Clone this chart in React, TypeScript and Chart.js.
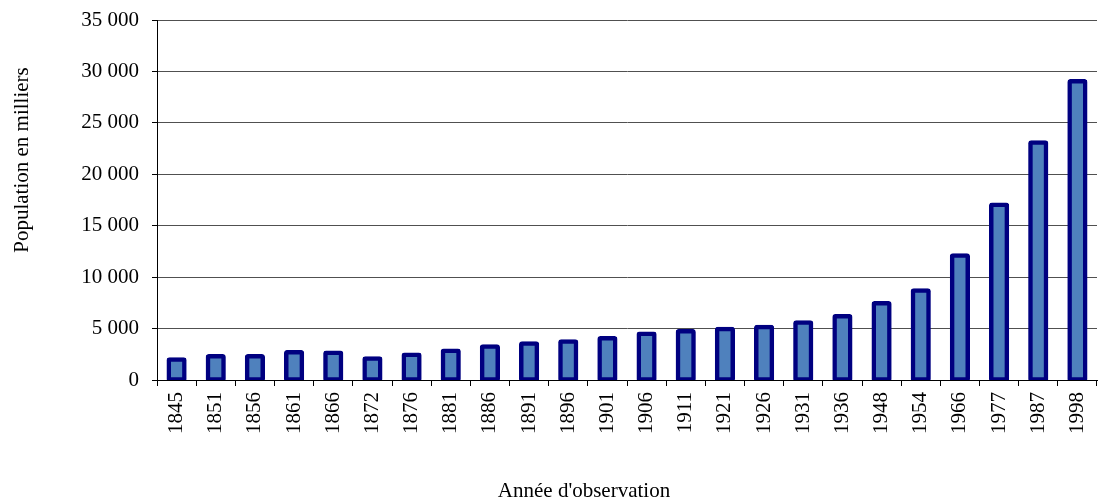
import React, { useEffect, useRef } from "react";
import { Chart, registerables } from "chart.js";

Chart.register(...registerables);

const years = [
  "1845", "1851", "1856", "1861", "1866", "1872", "1876", "1881", "1886", "1891",
  "1896", "1901", "1906", "1911", "1921", "1926", "1931", "1936", "1948", "1954",
  "1966", "1977", "1987", "1998",
];

const population = [
  2000, 2300, 2300, 2700, 2650, 2100, 2450, 2850, 3250, 3550,
  3750, 4050, 4500, 4750, 4950, 5150, 5600, 6200, 7450, 8700,
  12100, 17050, 23100, 29050,
];

const yTitle = "Population en milliers";
const xTitle = "Année d'observation";
const fontFamily = "'Liberation Serif', 'Times New Roman', serif";

function formatThousands(v: number): string {
  const s = Math.round(v).toString();
  return s.replace(/\B(?=(\d{3})+(?!\d))/g, " ");
}

const titlesPlugin = {
  id: "axisTitles",
  afterDraw(chart: any) {
    const ctx = chart.ctx as CanvasRenderingContext2D;
    ctx.save();
    ctx.fillStyle = "#000";
    ctx.font = `21px ${fontFamily}`;
    ctx.textAlign = "center";
    ctx.textBaseline = "alphabetic";
    ctx.fillText(xTitle, 584, 497);
    ctx.translate(22, 160);
    ctx.rotate(-Math.PI / 2);
    ctx.textBaseline = "middle";
    ctx.fillText(yTitle, 0, 0);
    ctx.restore();
  },
};

function zeroPadding(scale: any) {
  scale.paddingTop = 0;
  scale.paddingBottom = 0;
  scale.paddingLeft = 0;
  scale.paddingRight = 0;
}

export default function App() {
  const canvasRef = useRef<HTMLCanvasElement | null>(null);

  useEffect(() => {
    if (!canvasRef.current) return;
    const chart = new Chart(canvasRef.current, {
      type: "bar",
      data: {
        labels: years,
        datasets: [
          {
            label: "Population",
            data: population,
            backgroundColor: "#4f81bd",
            borderColor: "#000080",
            borderWidth: 4.5,
            borderSkipped: false,
            borderRadius: 3,
            inflateAmount: 2.25,
            barPercentage: 0.4,
            categoryPercentage: 1,
          },
        ],
      },
      options: {
        animation: false,
        responsive: true,
        maintainAspectRatio: false,
        layout: { padding: { left: 0, right: 1, top: 20, bottom: 0 } },
        plugins: {
          legend: { display: false },
          tooltip: { enabled: false },
          title: { display: false },
        },
        scales: {
          x: {
            type: "category",
            grid: {
              offset: true,
              drawOnChartArea: false,
              drawTicks: true,
              tickLength: 6,
              tickColor: "#000",
              color: "#000",
            },
            border: { display: true, color: "#000", width: 1 },
            ticks: {
              maxRotation: 90,
              minRotation: 90,
              autoSkip: false,
              padding: 6,
              color: "#000",
              font: { family: fontFamily, size: 21 },
            },
            afterFit: (scale: any) => {
              scale.height = 120;
              zeroPadding(scale);
            },
          },
          y: {
            min: 0,
            max: 35000,
            grid: {
              color: "#505050",
              lineWidth: 1,
              drawTicks: true,
              tickLength: 5,
              tickColor: "#000",
            },
            border: { display: true, color: "#000", width: 1 },
            ticks: {
              stepSize: 5000,
              padding: 13,
              color: "#000",
              font: { family: fontFamily, size: 21 },
              callback: (v: any) => formatThousands(Number(v)),
            },
            afterFit: (scale: any) => {
              scale.width = 157;
              zeroPadding(scale);
            },
          },
        },
      },
      plugins: [titlesPlugin],
    });
    return () => chart.destroy();
  }, []);

  return (
    <div style={{ position: "fixed", left: 0, top: 0, width: 1098, height: 500, background: "#fff" }}>
      <canvas ref={canvasRef} />
    </div>
  );
}
